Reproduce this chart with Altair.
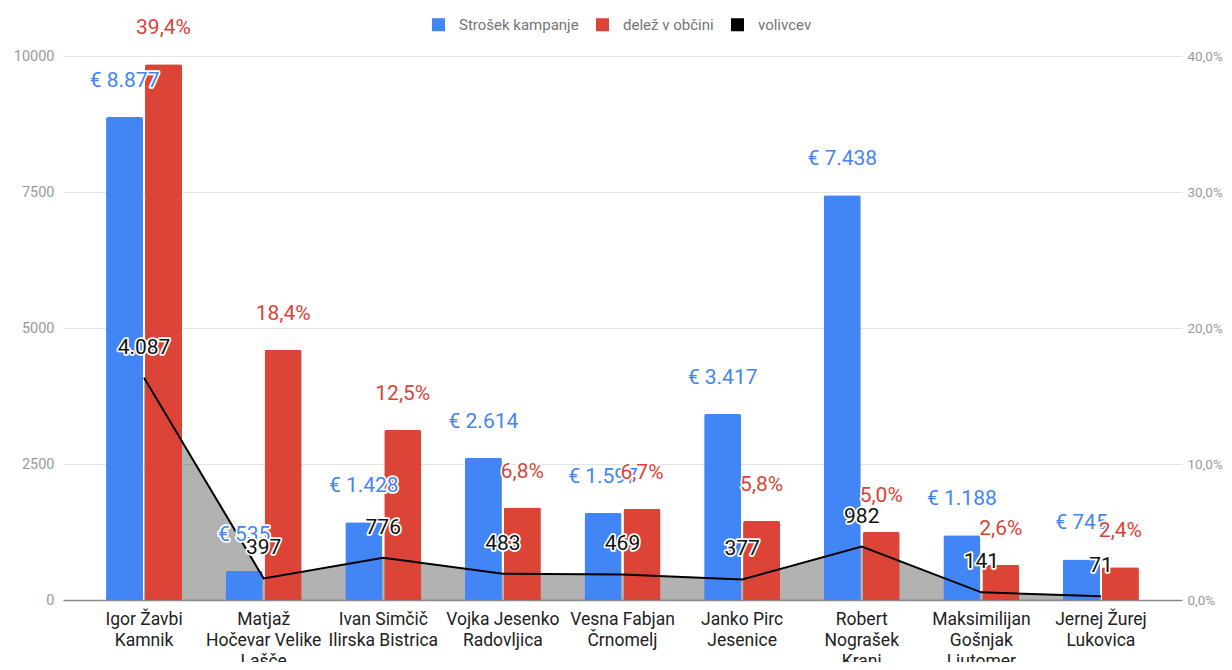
import altair as alt
import pandas as pd

# ---- data ----
categories = [
    "Igor Žavbi|Kamnik",
    "Matjaž|Hočevar Velike|Lašče",
    "Ivan Simčič|Ilirska Bistrica",
    "Vojka Jesenko|Radovljica",
    "Vesna Fabjan|Črnomelj",
    "Janko Pirc|Jesenice",
    "Robert|Nograšek|Kranj",
    "Maksimilijan|Gošnjak|Ljutomer",
    "Jernej Žurej|Lukovica",
]
cost = [8877, 535, 1428, 2614, 1597, 3417, 7438, 1188, 745]          # Strošek kampanje (EUR)
share = [39.4, 18.4, 12.5, 6.8, 6.7, 5.8, 5.0, 2.6, 2.4]              # delež v občini (%)
voters = [4087, 397, 776, 483, 469, 377, 982, 141, 71]                # volivcev

series_names = ["Strošek kampanje", "delež v občini", "volivcev"]
series_colors = ["#4285F4", "#DB4437", "#000000"]
left_ticks = [0, 2500, 5000, 7500, 10000]
right_ticks = [0, 10, 20, 30, 40]

df = pd.DataFrame({"cat": categories, "cost": cost, "share": share, "voters": voters})

FONT = "Roboto"
LABEL_SIZE = 21

base = alt.Chart(df).transform_calculate(
    cost_lbl="'€ ' + replace(format(datum.cost, ','), ',', '.')",
    share_lbl="replace(format(datum.share, '.1f'), '.', ',') + '%'",
    voters_lbl="replace(format(datum.voters, ','), ',', '.')",
)

x_enc = alt.X(
    "cat:N",
    sort=categories,
    scale=alt.Scale(paddingInner=0.365, paddingOuter=0.36),
    axis=alt.Axis(
        title=None, labelExpr="split(datum.label, '|')", labelAngle=0, ticks=False,
        labelFontSize=17.5, labelColor="#222222", labelLineHeight=21, labelPadding=10,
        labelFont=FONT, domainColor="#8a8a8a", domainWidth=1.5, labelBaseline="top",
    ),
)

color_enc = alt.Color(
    "series:N",
    scale=alt.Scale(domain=series_names, range=series_colors),
    legend=alt.Legend(
        orient="none", legendX=368, legendY=-39, direction="horizontal", title=None,
        symbolType="square", symbolSize=170, symbolStrokeWidth=0, labelFontSize=15,
        labelColor="#757575", labelFont=FONT, columnPadding=16, labelOffset=13, padding=0,
    ),
)

off_scale = alt.Scale(domain=series_names[:2], paddingInner=0.05, paddingOuter=0)

y_left = alt.Y(
    "cost:Q",
    scale=alt.Scale(domain=[0, 10000], nice=False),
    axis=alt.Axis(
        values=left_ticks, format="d", title=None, domain=False, ticks=False,
        gridColor="#e3e3e3", labelColor="#9a9a9a", labelFontSize=14.5, labelPadding=9, labelFont=FONT,
    ),
)

# Group A: area (behind) + cost bars, left scale
area = base.mark_area(color="#000000", opacity=0.3).encode(
    x=x_enc, y=alt.Y("voters:Q", scale=alt.Scale(domain=[0, 10000], nice=False))
)
cost_bars = base.transform_calculate(series="'Strošek kampanje'").mark_bar(
    cornerRadiusTopLeft=2, cornerRadiusTopRight=2
).encode(
    x=x_enc, y=y_left,
    xOffset=alt.XOffset("series:N", scale=off_scale),
    color=color_enc,
)
group_a = alt.layer(area, cost_bars)

# Group B: share bars, right scale
share_bars = base.transform_calculate(series="'delež v občini'").mark_bar(
    cornerRadiusTopLeft=2, cornerRadiusTopRight=2
).encode(
    x=x_enc,
    y=alt.Y(
        "share:Q",
        scale=alt.Scale(domain=[0, 40], nice=False),
        axis=alt.Axis(
            orient="right", values=right_ticks, title=None, grid=False, domain=False, ticks=False,
            labelExpr="replace(format(datum.value, '.1f'), '.', ',') + '%'",
            labelColor="#9a9a9a", labelFontSize=13.5, labelPadding=5, labelFont=FONT,
        ),
    ),
    xOffset=alt.XOffset("series:N", scale=off_scale),
    color=color_enc,
)

# Group C: line + cost labels + voter labels, left scale (no axis)
y_left_noaxis_v = alt.Y("voters:Q", scale=alt.Scale(domain=[0, 10000], nice=False), axis=None)
y_left_noaxis_c = alt.Y("cost:Q", scale=alt.Scale(domain=[0, 10000], nice=False), axis=None)

line = base.transform_calculate(series="'volivcev'").mark_line(strokeWidth=2).encode(
    x=x_enc, y=y_left_noaxis_v, color=color_enc
)


def halo_text(chart, y, field, color, dy, offset_name=None):
    enc = dict(x=x_enc, y=y, text=alt.Text(f"{field}:N"))
    c = chart
    if offset_name is not None:
        c = c.transform_calculate(series=f"'{offset_name}'")
        enc["xOffset"] = alt.XOffset("series:N", scale=off_scale)
    halo = c.mark_text(
        font=FONT, fontSize=LABEL_SIZE, dy=dy, baseline="middle", align="center",
        stroke="white", strokeWidth=3.5, strokeJoin="round", color="white",
    ).encode(**enc)
    txt = c.mark_text(
        font=FONT, fontSize=LABEL_SIZE, dy=dy, baseline="middle", align="center", color=color,
    ).encode(**enc)
    return [halo, txt]


cost_lbls = halo_text(base, y_left_noaxis_c, "cost_lbl", "#4285F4", -36, "Strošek kampanje")
voter_lbls = halo_text(base, y_left_noaxis_v, "voters_lbl", "#111111", -30)
group_c = alt.layer(line, *cost_lbls, *voter_lbls)

# Group D: share labels, right scale (no axis)
y_right_noaxis = alt.Y("share:Q", scale=alt.Scale(domain=[0, 40], nice=False), axis=None)
share_lbls = halo_text(base, y_right_noaxis, "share_lbl", "#DB4437", -36, "delež v občini")
group_d = alt.layer(*share_lbls)

chart = (
    alt.layer(group_a, share_bars, group_c, group_d)
    .resolve_scale(y="independent")
    .properties(
        width=1119, height=544,
        autosize=alt.AutoSizeParams(type="none"),
        padding={"left": 55, "top": 48, "right": 42, "bottom": 62},
        background="white",
    )
    .configure_view(stroke=None)
    .configure_axis(labelFont=FONT)
)

chart.save("out.html", embed_options={"renderer": "svg", "actions": False})
